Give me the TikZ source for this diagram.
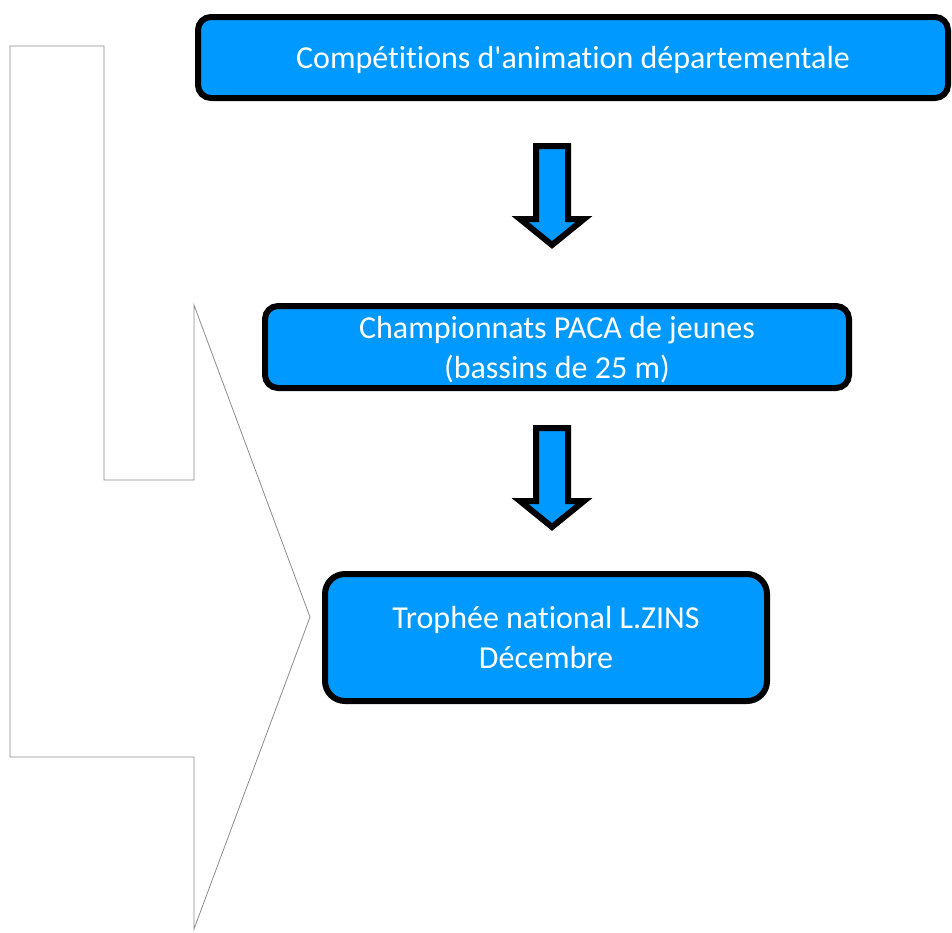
\documentclass[tikz,border=0pt]{standalone}
\usepackage{fontspec}
\setmainfont{Carlito}
\newfontfamily\boxfont{Carlito}[Ligatures=NoCommon]
\definecolor{boxblue}{RGB}{0,153,255}
\definecolor{outlinegray}{RGB}{140,140,140}
\newcommand{\nolig}{\kern0pt}
\newcommand{\boxlines}[1]{\raisebox{-3pt}[\height][\depth]{\begin{tabular}{@{}c@{}}#1\end{tabular}}}
\tikzset{
  stepbox/.style={draw=black, line width=6pt, fill=boxblue, rounded corners=13pt,
    text=white, align=center, font=\boxfont\fontsize{32}{40}\selectfont, inner sep=0pt},
  blockarrow/.style={draw=black, line width=6pt, fill=boxblue, line join=miter},
  outline/.style={draw=outlinegray, line width=0.8pt}
}
\begin{document}
\begin{tikzpicture}[x=1pt,y=-1pt]
\useasboundingbox (0,0) rectangle (952,932);
% outline shape
\draw[outline] (10,46) -- (104,46) -- (104,480) -- (194,480) -- (194,305) -- (310,617) -- (194,929) -- (194,757) -- (10,757) -- cycle;
% boxes
\node[stepbox, minimum width=750pt, minimum height=81pt] (b1) at (573,57.5) {\boxlines{Compét\nolig it\nolig ions d'animat\nolig ion départementale}};
\node[stepbox, minimum width=584pt, minimum height=82pt] (b2) at (557,347) {\boxlines{Championnats PACA de jeunes\\(bassins de 25 m)}};
\node[stepbox, rounded corners=20pt, minimum width=442pt, minimum height=127pt] (b3) at (546,637.5) {\boxlines{Trophée nat\nolig ional L.ZINS\\Décembre}};
% block arrows
\coordinate (a1) at (552,146);
\coordinate (a2) at (552,428);
\foreach \a in {a1,a2}{
  \draw[blockarrow] ([xshift=-16pt]\a) -- ([xshift=16pt]\a) -- ([xshift=16pt,yshift=-73pt]\a) -- ([xshift=32pt,yshift=-73pt]\a)
    -- ([yshift=-99pt]\a) -- ([xshift=-32pt,yshift=-73pt]\a) -- ([xshift=-16pt,yshift=-73pt]\a) -- cycle;
}
\end{tikzpicture}
\end{document}
